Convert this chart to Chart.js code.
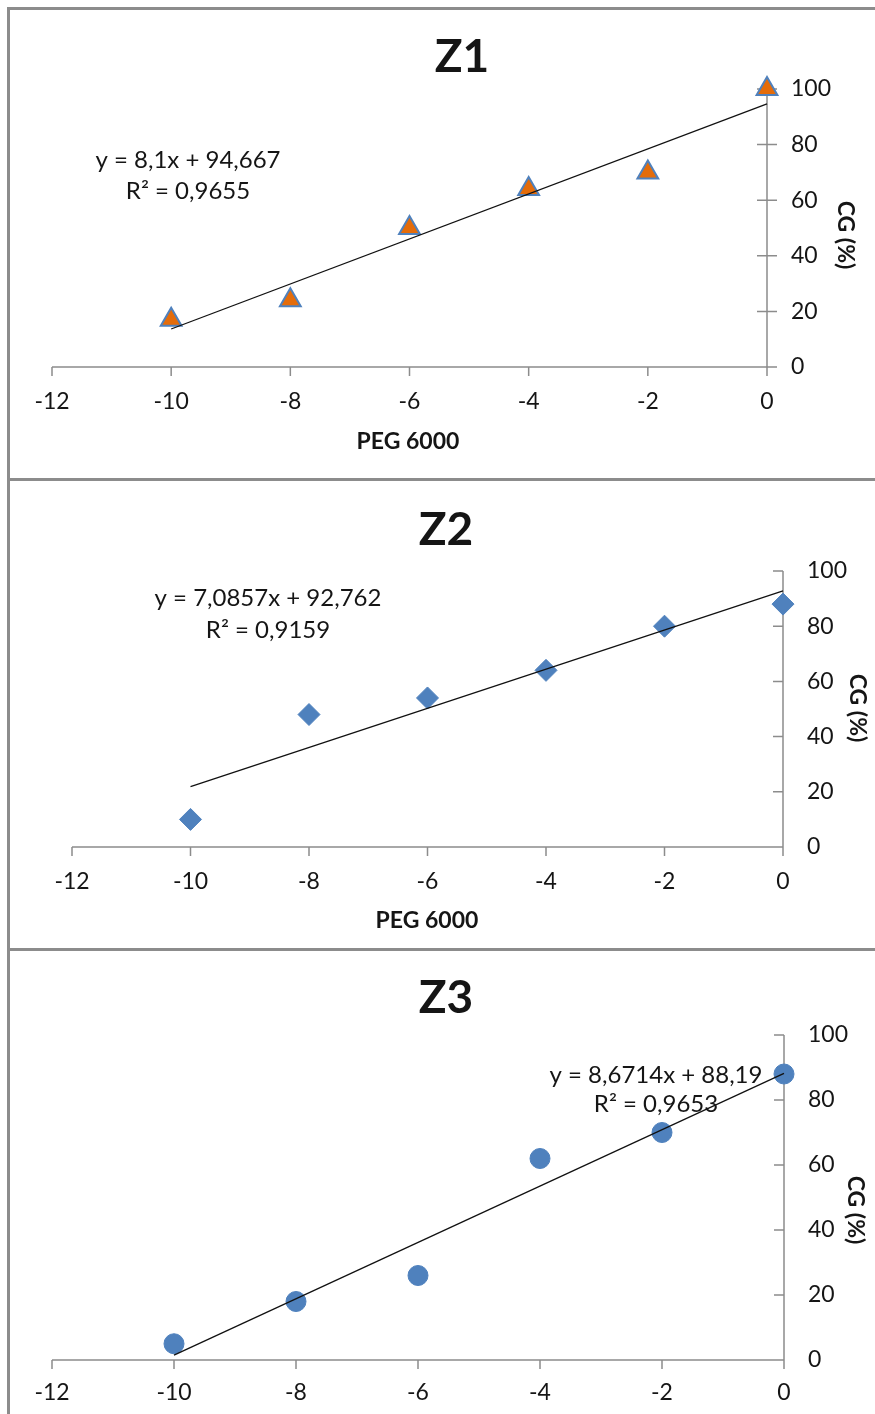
<!DOCTYPE html>
<html>
<head>
<meta charset="utf-8">
<script src="https://cdn.jsdelivr.net/npm/chart.js@4.4.0/dist/chart.umd.min.js"></script>
<style>
  html, body { margin: 0; padding: 0; background: #fff; }
  body { width: 875px; height: 1414px; position: relative; overflow: hidden; }
  canvas { position: absolute; left: 0; }
  .rule { position: absolute; background: #8c8c8c; }
</style>
</head>
<body>
<div class="rule" style="left:7px;top:7px;width:3px;height:1407px"></div>
<div class="rule" style="left:7px;top:7px;width:868px;height:3px"></div>
<div class="rule" style="left:7px;top:478px;width:868px;height:3px"></div>
<div class="rule" style="left:7px;top:948px;width:868px;height:3px"></div>
<canvas id="z1" width="875" height="479" style="top:0"></canvas>
<canvas id="z2" width="875" height="470" style="top:479px"></canvas>
<canvas id="z3" width="875" height="465" style="top:949px"></canvas>
<script>
const pegLevels = [-10, -8, -6, -4, -2, 0];
const z1Values = [17, 24, 50, 64, 70, 100];
const z2Values = [10, 48, 54, 64, 80, 88];
const z3Values = [5, 18, 26, 62, 70, 88];

// trendline coefficients as printed on the chart
const slopes = [8.1, 7.0857, 8.6714];
const intercepts = [94.667, 92.762, 88.19];
const equations = ["y = 8,1x + 94,667", "y = 7,0857x + 92,762", "y = 8,6714x + 88,19"];
const rSquared = ["R² = 0,9655", "R² = 0,9159", "R² = 0,9653"];

const xTicks = [-12, -10, -8, -6, -4, -2, 0];
const yTicks = [0, 20, 40, 60, 80, 100];

const FONT = "Lato, 'Open Sans', sans-serif";
const TEXT = "#151515";
const AXIS = "#8c8c8c";

const panels = [
  { id: "z1", title: "Z1", values: z1Values, shape: "triangle", radius: 12, fill: "#E46C0A", stroke: "#4F81BD", border: 2,
    pad: { left: 52, top: 89 }, yWidth: 108, xHeight: 112, xPad: 21, cross: true,
    titlePos: [462, 57], eqPos: [188, 160, 191], xTitlePos: [408, 442], yTitlePos: [845, 235] },
  { id: "z2", title: "Z2", values: z2Values, shape: "rectRot", radius: 11, fill: "#4F81BD", stroke: "#4F81BD", border: 1,
    pad: { left: 72, top: 92 }, yWidth: 92, xHeight: 102, xPad: 21, cross: false,
    titlePos: [446, 51], eqPos: [268, 119, 151], xTitlePos: [427, 442], yTitlePos: [857, 229] },
  { id: "z3", title: "Z3", values: z3Values, shape: "circle", radius: 10, fill: "#4F81BD", stroke: "#4F81BD", border: 1,
    pad: { left: 52, top: 86 }, yWidth: 91, xHeight: 54, xPad: 19, cross: false,
    titlePos: [446, 49], eqPos: [656, 126, 155], xTitlePos: null, yTitlePos: [855, 261] }
];

const panelDecor = {
  id: "panelDecor",
  beforeDatasetsDraw(chart, args, opts) {
    const { ctx, scales: { x, y } } = chart;
    const x0 = x.getPixelForValue(0);
    const y0 = y.getPixelForValue(0);
    ctx.save();
    ctx.strokeStyle = AXIS;
    ctx.lineWidth = 1.5;
    ctx.beginPath();
    ctx.moveTo(x.getPixelForValue(xTicks[0]), y0);
    ctx.lineTo(x0, y0);
    ctx.moveTo(x0, y.getPixelForValue(yTicks[yTicks.length - 1]));
    ctx.lineTo(x0, y0);
    xTicks.forEach(v => {
      const px = x.getPixelForValue(v);
      ctx.moveTo(px, y0);
      ctx.lineTo(px, y0 + 9);
    });
    yTicks.forEach(v => {
      const py = y.getPixelForValue(v);
      ctx.moveTo(x0 - 10, py);
      ctx.lineTo(x0 + (opts.cross ? 10 : 0), py);
    });
    ctx.stroke();
    ctx.restore();
  },
  afterDraw(chart, args, opts) {
    const ctx = chart.ctx;
    ctx.save();
    ctx.fillStyle = TEXT;
    ctx.textAlign = "center";
    ctx.textBaseline = "middle";

    ctx.font = "bold 46px " + FONT;
    ctx.fillText(opts.title, opts.titlePos[0], opts.titlePos[1]);

    ctx.font = "24px " + FONT;
    ctx.fillText(opts.equation, opts.eqPos[0], opts.eqPos[1]);
    ctx.fillText(opts.r2, opts.eqPos[0], opts.eqPos[2]);

    ctx.font = "bold 23px " + FONT;
    if (opts.xTitlePos) ctx.fillText("PEG 6000", opts.xTitlePos[0], opts.xTitlePos[1]);

    ctx.translate(opts.yTitlePos[0], opts.yTitlePos[1]);
    ctx.rotate(Math.PI / 2);
    ctx.fillText("CG (%)", 0, 0);
    ctx.restore();
  }
};

panels.forEach((p, i) => {
  const fitLine = [pegLevels[0], pegLevels[pegLevels.length - 1]].map(v => ({ x: v, y: slopes[i] * v + intercepts[i] }));
  new Chart(document.getElementById(p.id), {
    type: "scatter",
    data: {
      datasets: [
        {
          data: fitLine,
          showLine: true,
          borderColor: "#111",
          borderWidth: 1.3,
          pointRadius: 0,
          order: 0,
          clip: false
        },
        {
          data: pegLevels.map((v, k) => ({ x: v, y: p.values[k] })),
          pointStyle: p.shape,
          pointRadius: p.radius,
          backgroundColor: p.fill,
          borderColor: p.stroke,
          borderWidth: p.border,
          order: 1,
          clip: false
        }
      ]
    },
    options: {
      responsive: false,
      animation: false,
      events: [],
      layout: { padding: { left: p.pad.left, top: p.pad.top, right: 0, bottom: 0 } },
      scales: {
        x: {
          type: "linear",
          position: "bottom",
          min: -12,
          max: 0,
          grid: { display: false, drawTicks: false },
          border: { display: false },
          ticks: { stepSize: 2, padding: p.xPad, color: TEXT, font: { family: FONT, size: 23 } },
          afterFit: s => { s.height = p.xHeight; }
        },
        y: {
          type: "linear",
          position: "right",
          min: 0,
          max: 100,
          grid: { display: false, drawTicks: false },
          border: { display: false },
          ticks: { stepSize: 20, padding: 24, color: TEXT, font: { family: FONT, size: 23 } },
          afterFit: s => { s.width = p.yWidth; }
        }
      },
      plugins: {
        legend: { display: false },
        tooltip: { enabled: false },
        panelDecor: {
          cross: p.cross,
          title: p.title,
          titlePos: p.titlePos,
          equation: equations[i],
          r2: rSquared[i],
          eqPos: p.eqPos,
          xTitlePos: p.xTitlePos,
          yTitlePos: p.yTitlePos
        }
      }
    },
    plugins: [panelDecor]
  });
});
</script>
</body>
</html>
